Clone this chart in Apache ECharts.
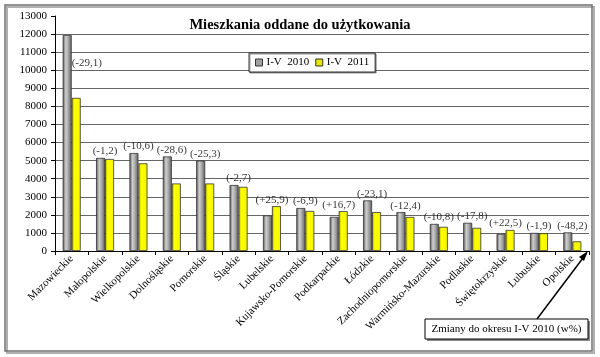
<!DOCTYPE html>
<html>
<head>
<meta charset="utf-8">
<script src="https://cdn.jsdelivr.net/npm/echarts@6/dist/echarts.min.js"></script>
<style>html,body{margin:0;padding:0;background:#fff;}#c{width:600px;height:357px;}</style>
</head>
<body>
<div id="c"></div>
<script>
var categories = ['Mazowieckie','Małopolskie','Wielkopolskie','Dolnośląskie','Pomorskie','Śląskie','Lubelskie','Kujawsko-Pomorskie','Podkarpackie','Łódzkie','Zachodniopomorskie','Warmińsko-Mazurskie','Podlaskie','Świętokrzyskie','Lubuskie','Opolskie'];
var values2010 = [11950, 5150, 5420, 5230, 5000, 3650, 1970, 2380, 1890, 2800, 2150, 1500, 1560, 950, 1000, 1030];
var values2011 = [8470, 5090, 4850, 3735, 3735, 3550, 2480, 2215, 2205, 2153, 1883, 1338, 1282, 1164, 981, 533];
var changes = ['(-29,1)','(-1,2)','(-10,6)','(-28,6)','(-25,3)','(-2,7)','(+25,9)','(-6,9)','(+16,7)','(-23,1)','(-12,4)','(-10,8)','(-17,8)','(+22,5)','(-1,9)','(-48,2)'];
var yTicks = {min: 0, max: 13000, interval: 1000};

var serif = '"Liberation Serif", "DejaVu Serif", serif';
var chart = echarts.init(document.getElementById('c'));

var labelData = categories.map(function (c, i) {
  var item = {value: Math.max(values2010[i], values2011[i])};
  if (i === 0) {
    item.label = {position: 'right', distance: 0, offset: [0, 28]};
  }
  return item;
});

var grayGrad = new echarts.graphic.LinearGradient(0, 0, 1, 0, [
  {offset: 0, color: '#555555'},
  {offset: 0.35, color: '#cfcfcf'},
  {offset: 0.6, color: '#aaaaaa'},
  {offset: 1, color: '#5e5e5e'}
]);
var yellowGrad = new echarts.graphic.LinearGradient(0, 0, 1, 0, [
  {offset: 0, color: '#a8a800'},
  {offset: 0.3, color: '#ffff00'},
  {offset: 1, color: '#f4f400'}
]);

chart.setOption({
  animation: false,
  title: {
    text: 'Mieszkania oddane do użytkowania',
    left: 'center',
    top: 13,
    textStyle: {fontFamily: serif, fontSize: 14.5, fontWeight: 'bold', color: '#000'}
  },
  legend: {
    data: [
      {name: 'I-V  2010', itemStyle: {color: '#a0a0a0', borderColor: '#333', borderWidth: 1}},
      {name: 'I-V  2011', itemStyle: {color: '#e6e600', borderColor: '#333', borderWidth: 1}}
    ],
    left: 249,
    top: 53,
    itemWidth: 7,
    itemHeight: 7,
    itemGap: 6,
    icon: 'rect',
    padding: [4, 6, 4, 6],
    backgroundColor: '#fff',
    borderColor: '#333',
    borderWidth: 1,
    shadowColor: 'rgba(0,0,0,0.4)',
    shadowOffsetX: 1,
    shadowOffsetY: 1,
    textStyle: {fontFamily: serif, fontSize: 11, color: '#000', padding: [0, 0, 0, -1]}
  },
  grid: {left: 55, right: 11, top: 16, bottom: 106, containLabel: false},
  xAxis: {
    type: 'category',
    data: categories,
    axisLine: {lineStyle: {color: '#000', width: 1}},
    axisTick: {show: true, alignWithLabel: false, length: 4, lineStyle: {color: '#000'}},
    axisLabel: {rotate: 45, interval: 0, fontFamily: serif, fontSize: 11, color: '#000', margin: 6}
  },
  yAxis: {
    type: 'value',
    min: yTicks.min,
    max: yTicks.max,
    interval: yTicks.interval,
    axisLine: {show: true, lineStyle: {color: '#000', width: 1}},
    axisTick: {show: true, length: 4, lineStyle: {color: '#000'}},
    axisLabel: {fontFamily: serif, fontSize: 11, color: '#000', margin: 8, formatter: function (v) { return String(v); }},
    splitLine: {show: true, showMaxLine: false, lineStyle: {color: '#666', width: 1}}
  },
  series: [
    {
      name: 'I-V  2010',
      type: 'bar',
      data: values2010,
      barWidth: 9,
      barGap: '0%',
      itemStyle: {color: grayGrad, borderColor: '#333', borderWidth: 0.8}
    },
    {
      name: 'I-V  2011',
      type: 'bar',
      data: values2011,
      barWidth: 9,
      barGap: '0%',
      itemStyle: {color: yellowGrad, borderColor: '#333', borderWidth: 0.8}
    },
    {
      name: 'zmiany',
      type: 'scatter',
      data: labelData,
      symbolSize: 0,
      silent: true,
      z: 10,
      label: {
        show: true,
        position: 'top',
        distance: 1,
        fontFamily: serif,
        fontSize: 11,
        color: '#000',
        formatter: function (p) { return changes[p.dataIndex]; }
      }
    }
  ],
  graphic: [
    {type: 'rect', shape: {x: 7, y: 7, width: 587, height: 346}, style: {fill: 'none', stroke: '#b0b0b0', lineWidth: 2}, z: -2, silent: true},
    {type: 'rect', shape: {x: 5, y: 5, width: 587, height: 346}, style: {fill: 'none', stroke: '#707070', lineWidth: 1.5}, z: -1, silent: true},
    {type: 'line', shape: {x1: 537, y1: 319, x2: 586, y2: 254}, style: {stroke: '#000', lineWidth: 1.5}, z: 20, silent: true},
    {type: 'polygon', shape: {points: [[588, 251], [579, 257], [584, 261]]}, style: {fill: '#000'}, z: 20, silent: true},
    {type: 'rect', shape: {x: 427, y: 321, width: 163, height: 20}, style: {fill: '#888', stroke: 'none'}, z: 19, silent: true},
    {type: 'rect', shape: {x: 425, y: 319, width: 163, height: 20}, style: {fill: '#fff', stroke: '#000', lineWidth: 1}, z: 20, silent: true},
    {type: 'text', x: 506.5, y: 329, style: {text: 'Zmiany do okresu I-V 2010 (w%)', font: '11px ' + serif, fill: '#000', align: 'center', verticalAlign: 'middle'}, z: 21, silent: true}
  ]
});
</script>
</body>
</html>
